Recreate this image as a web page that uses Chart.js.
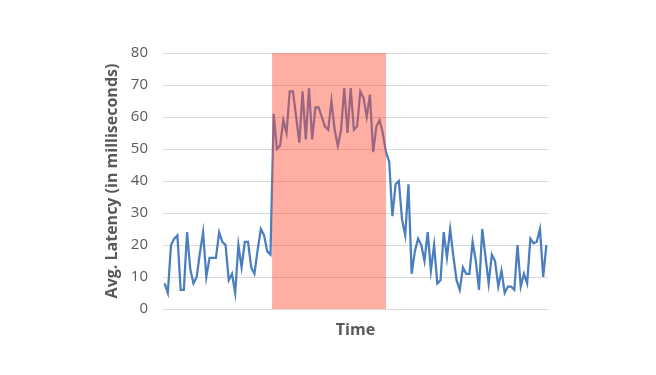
<!DOCTYPE html>
<html>
<head>
<meta charset="utf-8">
<script src="https://cdn.jsdelivr.net/npm/chart.js@4"></script>
<style>
  html, body { margin: 0; padding: 0; background: #fff; }
  #wrap { width: 656px; height: 375px; }
</style>
</head>
<body>
<div id="wrap"><canvas id="chart" width="656" height="375"></canvas></div>
<script>
// avg latency per time step (ms)
const latencyBefore = [8, 5, 20, 22, 23, 6, 6, 24, 12.5, 8, 10, 17.5, 24, 10, 16, 16, 16, 24, 21, 20,
  9, 11, 5, 20, 13, 21, 21, 13, 11, 18.5, 25, 23, 18, 17];
const latencyDuring = [61, 50, 51, 59, 55, 68, 68, 60, 52, 68, 53, 69, 53, 63, 63, 60, 57, 56, 65, 56,
  51, 56, 69, 55, 69, 56, 57, 68, 66, 60, 67, 49, 57, 59, 55, 49];
const latencyAfter = [46, 29, 39, 40, 28, 23, 39, 11, 18, 22, 20, 15, 24, 12, 20, 8, 9, 24, 16, 25,
  16.5, 9, 6, 13, 11, 11, 21, 15, 6, 25, 16.5, 8, 17, 15, 7, 12, 5, 7, 7, 6,
  20, 7, 11, 8, 22, 20.5, 21, 25, 10, 20];

const latency = latencyBefore.concat(latencyDuring, latencyAfter);
const timeLabels = latency.map((v, i) => String(i + 1));

// highlighted window, in category index units
const shadeStart = 33.5;
const shadeEnd = 69;

const yTicks = [0, 10, 20, 30, 40, 50, 60, 70, 80];

const shadePlugin = {
  id: "shade",
  afterDatasetsDraw(chart) {
    const x = chart.scales.x, y = chart.scales.y;
    const ctx = chart.ctx;
    const x0 = x.getPixelForValue(shadeStart);
    const x1 = x.getPixelForValue(shadeEnd);
    ctx.save();
    ctx.fillStyle = "rgba(255, 75, 50, 0.45)";
    ctx.fillRect(x0, y.top, x1 - x0, y.bottom - y.top);
    ctx.restore();
  }
};

new Chart(document.getElementById("chart"), {
  type: "line",
  data: {
    labels: timeLabels,
    datasets: [{
      data: latency,
      borderColor: "#4a7ebf",
      borderWidth: 2.25,
      pointRadius: 0,
      tension: 0,
      fill: false
    }]
  },
  options: {
    responsive: false,
    animation: false,
    devicePixelRatio: 1,
    layout: { padding: { left: 100, right: 108, top: 53, bottom: 0 } },
    plugins: { legend: { display: false }, tooltip: { enabled: false } },
    scales: {
      x: {
        type: "category",
        offset: true,
        grid: { display: false, drawTicks: false },
        border: { display: false },
        ticks: { display: false },
        title: {
          display: true,
          text: "Time",
          color: "#595959",
          font: { family: "Open Sans", size: 16, weight: "bold" },
          padding: { top: 0, bottom: 35 }
        },
        afterFit(scale) { scale.height = 66; }
      },
      y: {
        min: 0,
        max: 80,
        afterBuildTicks(scale) { scale.ticks = yTicks.map(v => ({ value: v })); },
        grid: { color: "#d9d9d9", lineWidth: 1, drawTicks: false },
        border: { display: false },
        ticks: {
          color: "#595959",
          padding: 15,
          font: { family: "Open Sans", size: 15 }
        },
        title: {
          display: true,
          text: "Avg. Latency (in milliseconds)",
          color: "#595959",
          font: { family: "Open Sans", size: 16, weight: "bold" },
          padding: { top: 3, bottom: 0 }
        },
        afterFit(scale) { scale.width = 63; }
      }
    }
  },
  plugins: [shadePlugin]
});
</script>
</body>
</html>
